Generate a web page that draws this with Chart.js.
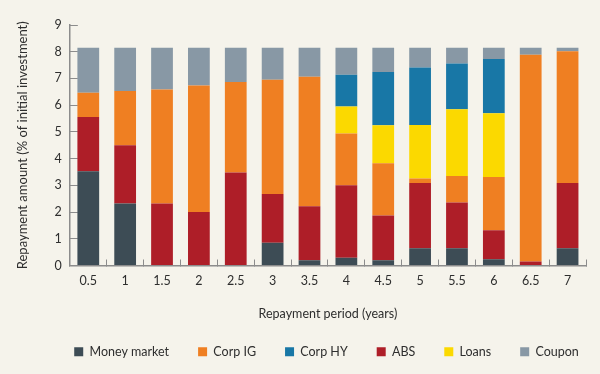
<!DOCTYPE html>
<html>
<head>
<meta charset="utf-8">
<script src="https://cdn.jsdelivr.net/npm/chart.js@4.4.1/dist/chart.umd.min.js"></script>
<style>
  html, body { margin: 0; padding: 0; background: #f5f3eb; }
  #wrap { width: 600px; height: 374px; position: relative; }
</style>
</head>
<body>
<div id="wrap"><canvas id="chart"></canvas></div>
<script>
// Repayment profile by asset class, stacked bottom-up in draw order.
const periods = ['0.5', '1', '1.5', '2', '2.5', '3', '3.5', '4', '4.5', '5', '5.5', '6', '6.5', '7'];

const moneyMarket = [3.53, 2.32, 0, 0, 0, 0.85, 0.2, 0.29, 0.2, 0.65, 0.65, 0.23, 0, 0.65];
const abs         = [2.03, 2.18, 2.32, 2.0, 3.48, 1.83, 2.02, 2.71, 1.67, 2.44, 1.71, 1.09, 0.15, 2.44];
const corpIG      = [0.9, 2.03, 4.27, 4.74, 3.39, 4.27, 4.84, 1.94, 1.96, 0.17, 0.99, 1.99, 7.74, 4.93];
const loans       = [0, 0, 0, 0, 0, 0, 0, 1.01, 1.42, 2.0, 2.5, 2.39, 0, 0];
const corpHY      = [0, 0, 0, 0, 0, 0, 0, 1.19, 1.99, 2.15, 1.71, 2.03, 0, 0];
const coupon      = [1.69, 1.62, 1.56, 1.41, 1.28, 1.2, 1.09, 1.01, 0.91, 0.74, 0.59, 0.42, 0.26, 0.13];

const yTicks = [0, 1, 2, 3, 4, 5, 6, 7, 8, 9];
const legendOrder = ['Money market', 'Corp IG', 'Corp HY', 'ABS', 'Loans', 'Coupon'];

const ink = '#2e2e2e';
const axisGrey = '#8c8c8c';
const font = "Lato, 'Noto Sans', sans-serif";

const series = [
  { label: 'Money market', data: moneyMarket, color: '#3d4c55' },
  { label: 'ABS',          data: abs,         color: '#ae1e28' },
  { label: 'Corp IG',      data: corpIG,      color: '#ef7f22' },
  { label: 'Loans',        data: loans,       color: '#fbd900' },
  { label: 'Corp HY',      data: corpHY,      color: '#1877a6' },
  { label: 'Coupon',       data: coupon,      color: '#8898a5' },
];

const bg = {
  id: 'bg',
  beforeDraw(chart) {
    const { ctx, width, height } = chart;
    ctx.save();
    ctx.fillStyle = '#f5f3eb';
    ctx.fillRect(0, 0, width, height);
    ctx.restore();
  },
};

// legend sits centred under the plot, not the whole canvas
const legendShift = {
  id: 'legendShift',
  afterLayout(chart) {
    const lg = chart.legend;
    if (!lg) return;
    lg.left += 26;
    lg.right += 26;
  },
};

new Chart(document.getElementById('chart'), {
  type: 'bar',
  data: {
    labels: periods,
    datasets: series.map((s) => ({
      label: s.label, data: s.data,
      backgroundColor: s.color, borderWidth: 0,
      barPercentage: 0.59, categoryPercentage: 1,
    })),
  },
  options: {
    responsive: true, maintainAspectRatio: false, animation: false,
    layout: { padding: { top: 25, right: 14, left: 15, bottom: 6 } },
    plugins: {
      legend: {
        position: 'bottom',
        labels: {
          boxWidth: 9, boxHeight: 9, padding: 29, color: ink,
          font: { family: font, size: 12.5 },
          sort: (a, b) => legendOrder.indexOf(a.text) - legendOrder.indexOf(b.text),
        },
      },
      tooltip: { enabled: false },
    },
    scales: {
      x: {
        stacked: true,
        grid: { display: true, drawOnChartArea: false, offset: true, tickLength: -6, color: axisGrey, lineWidth: 1 },
        border: { display: true, color: axisGrey, width: 1.5 },
        ticks: { color: ink, padding: 14, font: { family: font, size: 12.5 } },
        title: {
          display: true, text: 'Repayment period (years)', color: ink,
          font: { family: font, size: 12.5 }, padding: { top: 4, bottom: -5 },
        },
      },
      y: {
        stacked: true, min: 0, max: 9,
        afterBuildTicks: (scale) => { scale.ticks = yTicks.map((v) => ({ value: v })); },
        grid: { display: true, drawOnChartArea: false, tickLength: -8, color: axisGrey, lineWidth: 1 },
        border: { display: true, color: axisGrey, width: 1.5 },
        ticks: { color: ink, padding: 16, font: { family: font, size: 12.5 } },
        title: {
          display: true, text: 'Repayment amount (% of initial investment)', color: ink,
          font: { family: font, size: 13 }, padding: { top: 0, bottom: 8 },
        },
      },
    },
  },
  plugins: [bg, legendShift],
});
</script>
</body>
</html>
